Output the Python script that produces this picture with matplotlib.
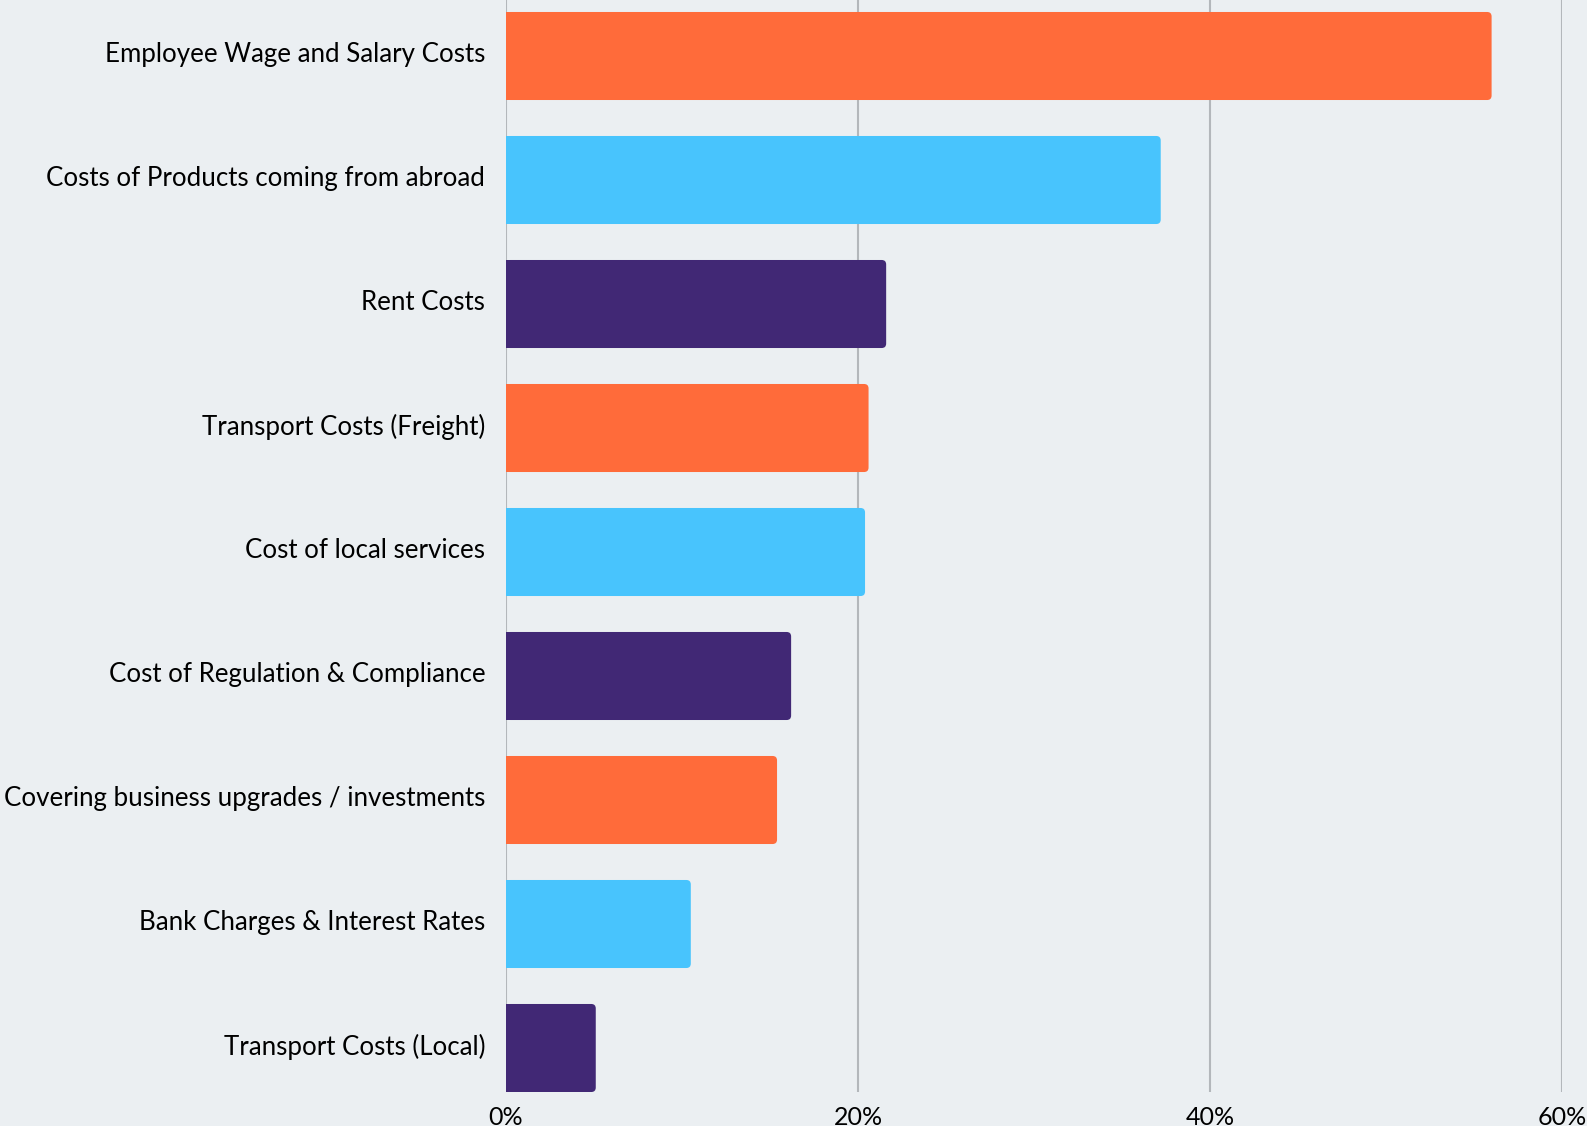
import matplotlib
matplotlib.use("Agg")
import matplotlib.pyplot as plt
import matplotlib.transforms as mtransforms
from matplotlib.patches import FancyBboxPatch

categories = [
    "Employee Wage and Salary Costs",
    "Costs of Products coming from abroad",
    "Rent Costs",
    "Transport Costs (Freight)",
    "Cost of local services",
    "Cost of Regulation & Compliance",
    "Covering business upgrades / investments",
    "Bank Charges & Interest Rates",
    "Transport Costs (Local)",
]
shares = [56.0, 37.2, 21.6, 20.6, 20.4, 16.2, 15.4, 10.5, 5.1]
xticks = [0, 20, 40, 60]
xtick_labels = ["0%", "20%", "40%", "60%"]

ORANGE = "#FF6B3A"
BLUE = "#48C4FD"
PURPLE = "#412875"
BG = "#EBEFF2"
GRID = "#B3B7BB"
palette = [ORANGE, BLUE, PURPLE]

W, H, DPI = 1587, 1126, 100
plt.rcParams["font.family"] = ["Lato", "DejaVu Sans"]

fig = plt.figure(figsize=(W / DPI, H / DPI), dpi=DPI, facecolor=BG)
left, right, top, bottom = 506, 1562, 0, 1092
ax = fig.add_axes([left / W, 1 - bottom / H, (right - left) / W, (bottom - top) / H])
ax.set_facecolor(BG)

y = list(range(len(categories)))
colors = [palette[i % 3] for i in y]
bars = ax.barh(y, shares, height=0.71, color=colors, zorder=3)

# round off the right-hand corners of each bar
x_px = (right - left) / 60.0
y_px = 124.0
r = 4.5 / x_px
for bar, c in zip(bars, colors):
    x0, y0 = bar.get_x(), bar.get_y()
    w, h = bar.get_width(), bar.get_height()
    ax.add_patch(FancyBboxPatch((x0, y0), w, h,
                                boxstyle=f"round,pad=0,rounding_size={r}",
                                mutation_aspect=x_px / y_px,
                                facecolor=c, edgecolor="none", zorder=3))
    bar.set_width(w / 2)

ax.set_xlim(0, 60)
ax.set_ylim((bottom - 56) / 124.0, -56 / 124.0)
ax.set_xticks(xticks)
ax.set_xticklabels(xtick_labels)
ax.set_yticks(y)
ax.set_yticklabels(categories)
ax.tick_params(axis="both", length=0, colors="black")
ax.tick_params(axis="y", pad=15, labelsize=18.6)
ax.tick_params(axis="x", pad=10, labelsize=18)
ax.grid(axis="x", color=GRID, linewidth=1.5, zorder=0)
ax.grid(axis="y", visible=False)
for s in ax.spines.values():
    s.set_visible(False)

# lift category labels slightly above bar centres
lift = mtransforms.ScaledTranslation(0, 4 / DPI, fig.dpi_scale_trans)
for lbl in ax.get_yticklabels():
    lbl.set_transform(lbl.get_transform() + lift)

fig.savefig("out.png", dpi=DPI, facecolor=BG)
